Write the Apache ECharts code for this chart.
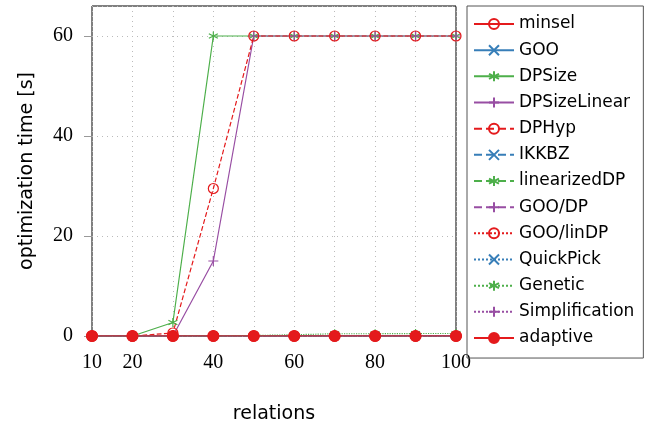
<!DOCTYPE html>
<html>
<head>
<meta charset="utf-8">
<script src="https://cdn.jsdelivr.net/npm/echarts@6/dist/echarts.min.js"></script>
<style>html,body{margin:0;padding:0;background:#fff}#c{width:650px;height:425px}</style>
</head>
<body>
<div id="c"></div>
<script>
const relations = [10, 20, 30, 40, 50, 60, 70, 80, 90, 100];
const xTickLabels = [10, 20, 40, 60, 80, 100];
const minsel = [0, 0, 0, 0, 0, 0, 0, 0, 0, 0];
const goo = [0, 0, 0, 0, 0, 0, 0, 0, 0, 0];
const dpSize = [0, 0, 2.7, 60, 60, 60, 60, 60, 60, 60];
const dpSizeLinear = [0, 0, 0, 15, 60, 60, 60, 60, 60, 60];
const dpHyp = [0, 0, 0.6, 29.5, 60, 60, 60, 60, 60, 60];
const ikkbz = [0, 0, 0, 0, 0, 0, 0, 0, 0, 0];
const linearizedDP = [0, 0, 0, 0, 0, 0, 0, 0, 0, 0];
const gooDP = [0, 0, 0, 0, 0, 0, 0, 0, 0, 0];
const gooLinDP = [0, 0, 0, 0, 0, 0, 0, 0, 0, 0];
const quickPick = [0, 0, 0, 0, 0, 0, 0, 0, 0, 0];
const genetic = [0, 0, 0, 0.02, 0.1, 0.25, 0.45, 0.45, 0.5, 0.5];
const simplification = [0, 0, 0, 0, 0, 0, 0, 0, 0, 0];
const adaptive = [0, 0, 0, 0, 0, 0, 0, 0, 0, 0];

const RED = '#e41a1c', BLUE = '#377eb8', GREEN = '#4daf4a', PURPLE = '#984ea3';
const RING = 'path://M0,5A5,5,0,1,0,10,5A5,5,0,1,0,0,5Z';
const CROSS = 'path://M0,0L10,10M10,0L0,10';
const PLUS = 'path://M5,0L5,10M0,5L10,5';
const STAR = 'path://M5,0L5,10M0.67,2.5L9.33,7.5M0.67,7.5L9.33,2.5';

function mk(name, vals, color, type, symbol, size) {
  return {
    name: name,
    type: 'line',
    data: relations.map((r, i) => [r, vals[i]]),
    symbol: symbol,
    symbolSize: size,
    showAllSymbol: true,
    lineStyle: { color: color, width: 1.2, type: type },
    itemStyle: { color: symbol === 'circle' ? color : 'rgba(0,0,0,0)', borderColor: color, borderWidth: 1.2 },
    emphasis: { disabled: true },
    animation: false
  };
}

const series = [
  mk('minsel', minsel, RED, 'solid', RING, 10),
  mk('GOO', goo, BLUE, 'solid', CROSS, 7),
  mk('DPSize', dpSize, GREEN, 'solid', STAR, 9),
  mk('DPSizeLinear', dpSizeLinear, PURPLE, 'solid', PLUS, 10),
  mk('DPHyp', dpHyp, RED, 'dashed', RING, 10),
  mk('IKKBZ', ikkbz, BLUE, 'dashed', CROSS, 7),
  mk('linearizedDP', linearizedDP, GREEN, 'dashed', STAR, 9),
  mk('GOO/DP', gooDP, PURPLE, 'dashed', PLUS, 10),
  mk('GOO/linDP', gooLinDP, RED, 'dotted', RING, 10),
  mk('QuickPick', quickPick, BLUE, 'dotted', CROSS, 7),
  mk('Genetic', genetic, GREEN, 'dotted', STAR, 9),
  mk('Simplification', simplification, PURPLE, 'dotted', PLUS, 10),
  mk('adaptive', adaptive, RED, 'solid', 'circle', 11)
];

const gridLine = { color: '#bbb', width: 1, type: [1, 4] };

const chart = echarts.init(document.getElementById('c'), null, { renderer: 'canvas' });
chart.setOption({
  animation: false,
  backgroundColor: '#fff',
  grid: { left: 92, right: 194, top: 6, bottom: 89, outerBoundsMode: 'none', containLabel: false, show: true, borderColor: '#000', borderWidth: 1, backgroundColor: 'transparent' },
  legend: {
    orient: 'vertical',
    left: 467, top: 6,
    itemWidth: 40, itemHeight: 12.5, itemGap: 9.17,
    padding: [9.5, 9, 11.5, 6],
    borderColor: '#555', borderWidth: 1,
    textStyle: { fontFamily: 'DejaVu Sans', fontSize: 17, color: '#000' },
    data: series.map(s => s.name)
  },
  xAxis: {
    type: 'value', min: 10, max: 100, interval: 10,
    name: 'relations', nameLocation: 'middle', nameGap: 69,
    nameTextStyle: { fontFamily: 'DejaVu Sans', fontSize: 19, color: '#000' },
    axisLine: { show: false },
    axisTick: { show: true, length: 5, lineStyle: { color: '#999' } },
    axisLabel: {
      fontFamily: 'Liberation Serif', fontSize: 20, color: '#000', margin: 17,
      formatter: v => xTickLabels.indexOf(v) >= 0 ? String(v) : ''
    },
    splitLine: { show: true, lineStyle: gridLine }
  },
  yAxis: {
    type: 'value', min: 0, max: 66, interval: 20,
    name: 'optimization time [s]', nameLocation: 'middle', nameGap: 55,
    nameTextStyle: { fontFamily: 'DejaVu Sans', fontSize: 19, color: '#000' },
    axisLine: { show: false },
    axisTick: { show: true, length: 8, lineStyle: { color: '#999' } },
    axisLabel: { fontFamily: 'Liberation Serif', fontSize: 20, color: '#000', margin: 19, showMaxLabel: false },
    splitLine: { show: true, lineStyle: gridLine }
  },
  series: series
});
</script>
</body>
</html>
